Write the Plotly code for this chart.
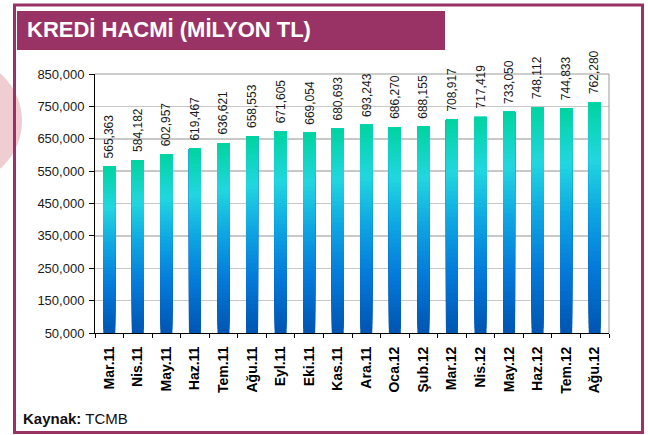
import plotly.graph_objects as go

categories = ["Mar.11", "Nis.11", "May.11", "Haz.11", "Tem.11", "Ağu.11", "Eyl.11", "Eki.11",
              "Kas.11", "Ara.11", "Oca.12", "Şub.12", "Mar.12", "Nis.12", "May.12", "Haz.12",
              "Tem.12", "Ağu.12"]
values = [565363, 584182, 602957, 619467, 636621, 658553, 671605, 669054, 680693, 693243,
          686270, 688155, 708917, 717419, 733050, 748112, 744833, 762280]
tick_vals = [50000, 150000, 250000, 350000, 450000, 550000, 650000, 750000, 850000]
title_text = "KREDİ HACMİ (MİLYON TL)"
source_label = "Kaynak:"
source_text = "TCMB"

FONT = "Liberation Sans, Arial, sans-serif"
PURPLE = "#993366"
W, H = 648, 435
L, R, T, B = 95, 39, 74, 102
PW, PH = W - L - R, H - T - B
Y0 = tick_vals[0]


def px(x):
    return (x - L) / PW


def py(y):
    return (H - B - y) / PH


# gradient stops: (fraction from bottom, rgb)
stops = [(0.0, (0, 85, 178)), (0.28, (4, 122, 218)), (0.52, (14, 165, 226)),
         (0.75, (34, 214, 224)), (1.0, (0, 212, 160))]


def grad(t):
    for (a, ca), (b, cb) in zip(stops[:-1], stops[1:]):
        if a <= t <= b:
            f = (t - a) / (b - a)
            c = [round(ca[i] + (cb[i] - ca[i]) * f) for i in range(3)]
            return f"rgb({c[0]},{c[1]},{c[2]})"
    return "rgb(0,212,160)"


fig = go.Figure()
K = 48
for k in range(K):
    bases = [Y0 + (v - Y0) * k / K for v in values]
    heights = [v - b for v, b in zip(values, bases)]
    fig.add_trace(go.Bar(
        x=categories, y=heights, base=bases, width=0.42,
        marker=dict(color=grad((k + 0.5) / K), line=dict(width=0)),
        hoverinfo="skip", showlegend=False,
    ))

annotations = []
for c, v in zip(categories, values):
    annotations.append(dict(
        x=c, y=v, xref="x", yref="y", text=f"{v:,}", showarrow=False,
        textangle=-90, yanchor="bottom", xanchor="center", yshift=6,
        font=dict(family=FONT, size=12, color="#1a1a1a"),
    ))

annotations.append(dict(
    x=px(25), y=py(30), xref="paper", yref="paper", xanchor="left", yanchor="middle",
    text=f"<b>{title_text}</b>", showarrow=False,
    font=dict(family=FONT, size=22, color="white"),
))
annotations.append(dict(
    x=px(21), y=py(418), xref="paper", yref="paper", xanchor="left", yanchor="middle",
    text=f"<b>{source_label}</b> {source_text}", showarrow=False,
    font=dict(family=FONT, size=15, color="#111111"),
))

shapes = [
    dict(type="circle", xref="paper", yref="paper",
         x0=px(-104), x1=px(22), y0=py(184), y1=py(58),
         fillcolor="#F0CDD1", line=dict(width=0), layer="below"),
    dict(type="rect", xref="paper", yref="paper",
         x0=px(14.5), x1=px(642.5), y0=py(432.5), y1=py(5),
         line=dict(color=PURPLE, width=3), fillcolor="rgba(0,0,0,0)", layer="above"),
    dict(type="rect", xref="paper", yref="paper",
         x0=px(17), x1=px(445), y0=py(50), y1=py(11),
         fillcolor=PURPLE, line=dict(width=0), layer="above"),
    dict(type="line", xref="paper", yref="paper", x0=0, x1=1, y0=1, y1=1,
         line=dict(color="#9a9a9a", width=1), layer="above"),
    dict(type="line", xref="paper", yref="paper", x0=1, x1=1, y0=0, y1=1,
         line=dict(color="#9a9a9a", width=1), layer="above"),
]

fig.update_layout(
    width=W, height=H,
    margin=dict(l=L, r=R, t=T, b=B, pad=0),
    barmode="overlay", bargap=0.58,
    paper_bgcolor="white", plot_bgcolor="white",
    font=dict(family=FONT, color="#1a1a1a"),
    annotations=annotations, shapes=shapes,
    xaxis=dict(
        type="category", tickangle=-90, tickson="boundaries",
        ticks="outside", ticklen=4, tickcolor="black",
        showline=True, linecolor="black", linewidth=1,
        showgrid=False, ticklabelstandoff=7,
        tickfont=dict(family=FONT, size=14, color="black", weight="bold"),
    ),
    yaxis=dict(
        range=[tick_vals[0], tick_vals[-1]], tickvals=tick_vals,
        ticktext=[f"{t:,}" for t in tick_vals],
        ticks="outside", ticklen=5, tickcolor="black",
        showline=True, linecolor="black", linewidth=1,
        showgrid=True, gridcolor="#c8c8c8", gridwidth=1.5,
        zeroline=False, ticklabelstandoff=2,
        tickfont=dict(family=FONT, size=13, color="#1a1a1a"),
    ),
)

fig.write_html("out.html", config={"displayModeBar": False, "staticPlot": True},
               post_script="document.body.style.margin='0';")
